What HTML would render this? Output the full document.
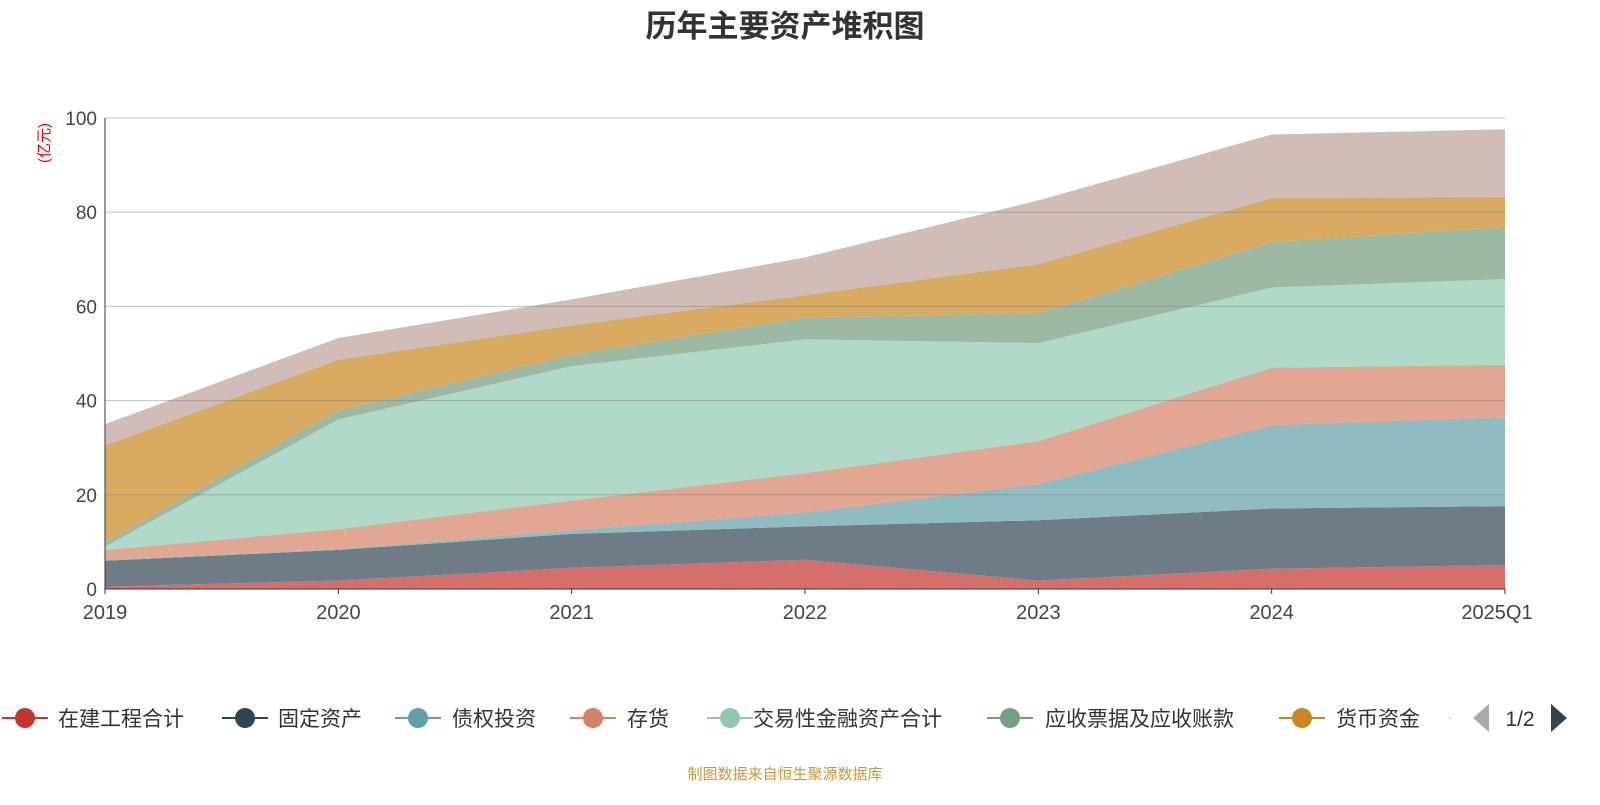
<!DOCTYPE html>
<html><head><meta charset="utf-8"><style>
body{margin:0;width:1600px;height:800px;background:#fff;overflow:hidden;font-family:"Liberation Sans","Noto Sans CJK SC",sans-serif;}
svg text{font-family:"Liberation Sans","Noto Sans CJK SC",sans-serif;}
</style></head><body>
<svg id="chart" width="1600" height="800" xmlns="http://www.w3.org/2000/svg">
<text x="785" y="37" font-size="31" font-weight="bold" fill="#333" text-anchor="middle">历年主要资产堆积图</text>
<text transform="translate(49,143) rotate(-90)" font-size="15" fill="#e00" text-anchor="middle">(亿元)</text>
<g id="areas"></g>
<g id="grid"></g>
<g id="axes"></g>
<g id="legend"></g>
<text x="785" y="779" font-size="15" fill="#c8963c" text-anchor="middle">制图数据来自恒生聚源数据库</text>
</svg>
<script>
const categories = ["2019","2020","2021","2022","2023","2024","2025Q1"];
const yTicks = [0,20,40,60,80,100];
const sZaijian = [0.5,1.8,4.5,6.2,1.8,4.3,5.1];
const sGuding = [5.5,6.5,7.2,7.1,12.8,12.8,12.5];
const sZhaiquan = [0.2,0.2,0.8,3.0,7.7,17.7,18.9];
const sCunhuo = [2.1,4.2,6.3,8.3,9.1,12.2,11.1];
const sJiaoyi = [0.7,23.3,28.5,28.4,20.8,17.0,18.2];
const sYingshou = [1.0,2.0,2.5,4.7,6.4,9.7,11.1];
const sHuobi = [20.5,10.7,6.2,4.7,10.4,9.3,6.4];
const sQita = [4.5,4.6,5.5,8.0,13.5,13.5,14.3];
const seriesNames = ["在建工程合计","固定资产","债权投资","存货","交易性金融资产合计","应收票据及应收账款","货币资金","其他"];
const seriesData = [sZaijian,sGuding,sZhaiquan,sCunhuo,sJiaoyi,sYingshou,sHuobi,sQita];
const fills = ["#d4706c","#6e7c87","#8fbbc1","#e1a792","#b1d9c8","#9db9a3","#d9ab62","#d0bdb8"];
const legendColors = ["#c23531","#2f4554","#61a0a8","#d48265","#91c7ae","#749f83","#ca8622"];
const NS="http://www.w3.org/2000/svg";
const X0=105,X1=1505,Y0=589,Y1=118;
const xs=i=>X0+(X1-X0)*i/(categories.length-1);
const ys=v=>Y0-(Y0-Y1)*v/100;
function mk(tag,attrs,parent){const e=document.createElementNS(NS,tag);for(const k in attrs)e.setAttribute(k,attrs[k]);parent.appendChild(e);return e;}
const grid=document.getElementById('grid'),areas=document.getElementById('areas'),axes=document.getElementById('axes'),legend=document.getElementById('legend');
yTicks.forEach(t=>{
  const l=mk('line',{x1:X0,x2:X1,y1:ys(t),y2:ys(t),stroke:t===0?'#333':'rgba(120,120,120,0.45)','stroke-width':1},t===0?axes:grid);
  
  
  const tx=mk('text',{x:X0-8,y:ys(t)+7,'font-size':19,fill:'#444','text-anchor':'end'},axes);
  tx.textContent=t;
  
  
});
const yl=mk('line',{x1:X0,x2:X0,y1:Y1,y2:Y0,stroke:'#333'},axes);


categories.forEach((c,i)=>{
  const tx=mk('text',{x:xs(i)-(i===categories.length-1?8:0),y:Y0+30,'font-size':20,fill:'#444','text-anchor':'middle'},axes);
  tx.textContent=c;
  
  
  const tk=mk('line',{x1:xs(i),x2:xs(i),y1:Y0,y2:Y0+5,stroke:'#333'},axes);
  
  
});
let base=categories.map(()=>0);
seriesData.forEach((s,k)=>{
  const top=base.map((b,i)=>b+s[i]);
  let d='M'+top.map((v,i)=>xs(i)+','+ys(v)).join(' L');
  for(let i=base.length-1;i>=0;i--)d+=' L'+xs(i)+','+ys(base[i]);
  const p=mk('path',{d:d+'Z',fill:fills[k]},areas);
  
  
  base=top;
});
const lx=[25,245,418,593,730,1010,1302],tx0=[58,278,452,627,753,1045,1336];
legendColors.forEach((c,k)=>{
  const g=mk('g',{},legend);
  
  
  mk('line',{x1:lx[k]-23,x2:lx[k]+23,y1:718,y2:718,stroke:c,'stroke-width':2},g);
  mk('circle',{cx:lx[k],cy:718,r:10,fill:c},g);
  const t=mk('text',{x:tx0[k],y:726,'font-size':21,fill:'#333'},g);
  t.textContent=seriesNames[k];
});
const dot=mk('circle',{cx:1450,cy:718,r:1,fill:'#ccc'},legend);


const pl=mk('path',{d:'M1489,704 L1473,718 L1489,732Z',fill:'#aaa'},legend);


const pt=mk('text',{x:1520,y:726,'font-size':21,fill:'#333','text-anchor':'middle'},legend);
pt.textContent='1/2';


const pn=mk('path',{d:'M1551,704 L1567,718 L1551,732Z',fill:'#2f4554'},legend);


</script>
</body></html>
